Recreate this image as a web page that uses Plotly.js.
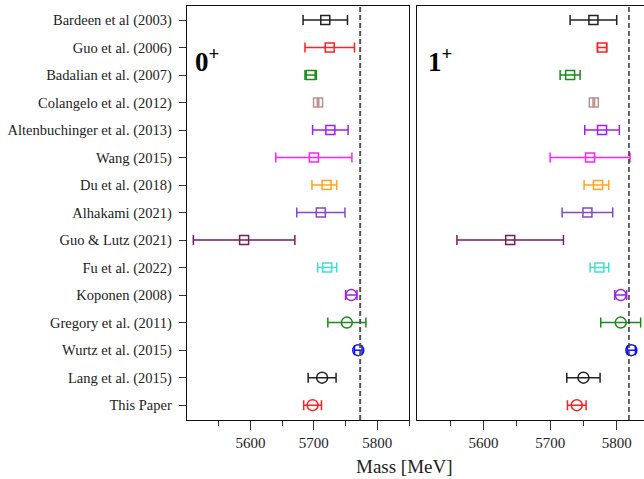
<!DOCTYPE html>
<html>
<head>
<meta charset="utf-8">
<script src="https://cdn.plot.ly/plotly-3.0.1.min.js"></script>
<style>html,body{margin:0;padding:0;background:#fff;}#chart{width:644px;height:479px;}</style>
</head>
<body>
<div id="chart"></div>
<script>
// Studies (top to bottom)
var studies = ["Bardeen et al (2003)", "Guo et al. (2006)", "Badalian et al. (2007)", "Colangelo et al. (2012)",
  "Altenbuchinger et al. (2013)", "Wang (2015)", "Du et al. (2018)", "Alhakami (2021)", "Guo & Lutz (2021)",
  "Fu et al. (2022)", "Koponen (2008)", "Gregory et al. (2011)", "Wurtz et al. (2015)", "Lang et al. (2015)", "This Paper"];
// 0+ masses [MeV] and errors
var mass0    = [5718, 5725, 5695, 5706.6, 5726, 5700, 5720, 5711, 5590, 5721, 5759, 5752, 5770, 5713, 5698];
var err0Up   = [35, 39, 9, 1.2, 28, 60, 16, 38, 80, 15, 9, 30, 6, 22, 14];
var err0Down = [35, 39, 9, 1.2, 28, 60, 23, 38, 80, 15, 9, 30, 6, 22, 14];
// 1+ masses [MeV] and errors
var mass1    = [5765, 5778, 5730, 5765.6, 5778, 5760, 5772, 5756, 5640, 5774, 5806, 5806, 5822, 5750, 5740];
var err1Up   = [35, 7, 15, 1.2, 26, 60, 16, 38, 80, 14, 9, 30, 6, 25, 14];
var err1Down = [35, 7, 15, 1.2, 26, 60, 21, 38, 80, 14, 9, 30, 6, 25, 14];
// thresholds: BK and B*K
var threshold0 = 5773;
var threshold1 = 5818.4;
var xTicks = [5600, 5700, 5800];
var xMinorTicks = [5550, 5650, 5750, 5850];

var colors = ["#222222", "#ff2020", "#1a8a1a", "#c09090", "#a020f0", "#ff20ff", "#ffa520", "#8448c8", "#7a1a5a",
  "#40e0d0", "#a020f0", "#1a8a1a", "#1010ff", "#222222", "#ff2020"];
var nLattice = 5; // last rows drawn with circles

var traces = [];
var yIdx = studies.map(function(_, i){ return i; });
for (var i = 0; i < studies.length; i++) {
  var circ = i >= studies.length - nLattice;
  var mk = {symbol: circ ? 'circle-open' : 'square-open', size: circ ? 11 : 9, color: colors[i], line: {width: 1.5, color: colors[i]}};
  traces.push({x: [mass0[i]], y: [yIdx[i]], xaxis: 'x', yaxis: 'y', mode: 'markers', type: 'scatter', showlegend: false,
    marker: mk, error_x: {type: 'data', symmetric: false, array: [err0Up[i]], arrayminus: [err0Down[i]], color: colors[i], thickness: 1.5, width: 5}});
  traces.push({x: [mass1[i]], y: [yIdx[i]], xaxis: 'x2', yaxis: 'y2', mode: 'markers', type: 'scatter', showlegend: false,
    marker: mk, error_x: {type: 'data', symmetric: false, array: [err1Up[i]], arrayminus: [err1Down[i]], color: colors[i], thickness: 1.5, width: 5}});
}

var serif = "Liberation Serif";
var yr = [studies.length - 1 + 0.54, -0.51];
var xTickFont = {family: serif, size: 15, color: '#222'};
var layout = {
  width: 644, height: 479,
  margin: {l: 187, r: 0, t: 6, b: 59},
  paper_bgcolor: '#fff', plot_bgcolor: '#fff',
  font: {family: serif, color: '#222'},
  xaxis: {domain: [0, 0.4858], range: [5500, 5850], tickvals: xTicks, ticks: 'outside', ticklen: 9, tickcolor: '#333',
    showline: true, linecolor: '#111', linewidth: 1.3, mirror: true, showgrid: false, zeroline: false,
    tickfont: xTickFont,
    minor: {tickvals: xMinorTicks, ticks: 'outside', ticklen: 5, tickcolor: '#333', showgrid: false}},
  xaxis2: {domain: [0.5033, 1], range: [5500, 5841], tickvals: xTicks, ticks: 'outside', ticklen: 9, tickcolor: '#333',
    showline: true, linecolor: '#111', linewidth: 1.3, mirror: true, showgrid: false, zeroline: false,
    tickfont: xTickFont,
    minor: {tickvals: xMinorTicks, ticks: 'outside', ticklen: 5, tickcolor: '#333', showgrid: false}},
  yaxis: {range: yr, tickvals: yIdx, ticktext: studies, ticks: 'outside', ticklen: 7, tickcolor: '#333',
    showline: true, linecolor: '#111', linewidth: 1.3, mirror: true, showgrid: false, zeroline: false,
    ticklabelstandoff: 4, tickfont: {family: serif, size: 14.5, color: '#222'}},
  yaxis2: {range: yr, anchor: 'x2', showticklabels: false, ticks: '', showline: true, linecolor: '#111', linewidth: 1.3,
    mirror: false, showgrid: false, zeroline: false},
  shapes: [
    {type: 'line', xref: 'x', yref: 'y domain', x0: threshold0, x1: threshold0, y0: 0, y1: 1, line: {color: '#555', width: 2, dash: '5px,3px'}},
    {type: 'line', xref: 'x2', yref: 'y2 domain', x0: threshold1, x1: threshold1, y0: 0, y1: 1, line: {color: '#333', width: 1.5, dash: '5px,3px'}}
  ],
  annotations: [
    {xref: 'x domain', yref: 'y domain', x: 0.025, y: 0.87, xanchor: 'left', yanchor: 'middle', showarrow: false,
      text: '<b>0</b><sup><b>+</b></sup>', font: {family: serif, size: 27, color: '#000'}},
    {xref: 'x2 domain', yref: 'y2 domain', x: 0.04, y: 0.87, xanchor: 'left', yanchor: 'middle', showarrow: false,
      text: '<b>1</b><sup><b>+</b></sup>', font: {family: serif, size: 27, color: '#000'}},
    {xref: 'paper', yref: 'paper', x: 0.475, y: -0.1135, xanchor: 'center', yanchor: 'middle', showarrow: false,
      text: 'Mass [MeV]', font: {family: serif, size: 19, color: '#222'}}
  ]
};
Plotly.newPlot('chart', traces, layout, {displayModeBar: false, staticPlot: true});
</script>
</body>
</html>
